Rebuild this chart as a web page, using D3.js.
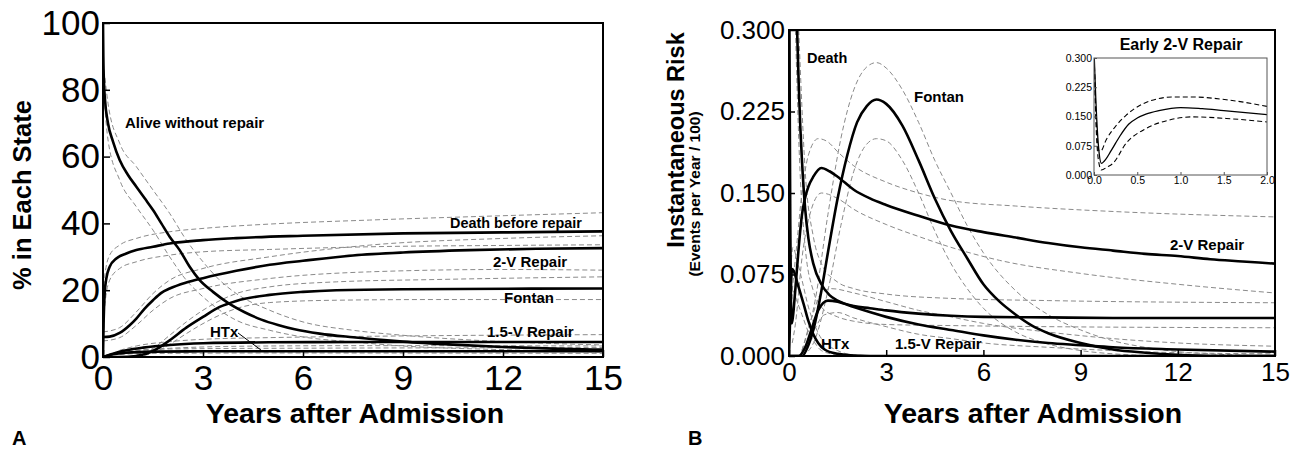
<!DOCTYPE html>
<html>
<head>
<meta charset="utf-8">
<script src="https://cdn.jsdelivr.net/npm/d3@7"></script>
<style>
  body { margin: 0; background: #fff; }
  svg { font-family: "Liberation Sans", Arial, sans-serif; }
</style>
</head>
<body>
<svg id="chart" width="1299" height="449"></svg>
<script>
// ---- data ----
var xTicks = [0, 3, 6, 9, 12, 15];
var yTicksA = [0, 20, 40, 60, 80, 100];
var yTicksB = [0, 0.075, 0.15, 0.225, 0.3];
var xTicksInset = [0, 0.5, 1, 1.5, 2];

// Panel A: % in each state  [year, percent]
var aliveA = [[0,100],[0.01,90],[0.03,82],[0.06,77],[0.15,70],[0.3,64.5],[0.5,59],[0.75,54.5],[1,51],[1.25,47.5],[1.5,44],[1.75,40],[2,36],[2.3,32],[2.6,27],[2.9,23],[3.3,19.5],[3.75,16.2],[4.25,13.4],[4.75,11.2],[5.25,9.6],[5.75,8.3],[6.5,7],[7.5,5.9],[9,4.6],[10.5,3.7],[12,3],[13.5,2.5],[15,2.2]];
var aliveAUp = [[0.03,86],[0.15,76],[0.5,64],[1,57],[1.5,50],[2,43],[2.5,35],[3,28.5],[3.5,23],[4,19],[5,14],[6,10.5],[7.5,8],[9,6.5],[12,4.6],[15,3.6]];
var aliveALo = [[0.03,78],[0.15,65],[0.5,53],[1,45],[1.5,38],[2,30],[2.5,23],[3,18],[3.5,14],[4,11],[5,8],[6,6],[7.5,4.5],[9,3.3],[12,2.2],[15,1.5]];

var deathA = [[0,0],[0.02,11],[0.05,19],[0.1,23.5],[0.2,27],[0.4,29.5],[0.7,31],[1,32],[1.5,33],[2,34],[3,35],[4,35.6],[6,36.3],[9,37],[12,37.3],[15,37.6]];
var deathAUp = [[0.02,14],[0.05,24],[0.2,30.5],[0.5,33.5],[1,35.5],[2,37.5],[3,38.5],[5,39.8],[8,41],[12,42.3],[15,43.2]];
var deathALo = [[0.02,8],[0.05,15],[0.2,23],[0.5,26.5],[1,28.5],[2,30.5],[3,31.5],[5,32.2],[8,33],[12,33.4],[15,33.6]];

var twoVA = [[0,6],[0.2,6.1],[0.5,7.2],[0.8,9.5],[1,11.5],[1.25,14.5],[1.5,17],[1.75,19.2],[2,20.5],[2.5,22.3],[3,23.6],[4,25.8],[5,27.6],[6,28.8],[7.5,30.4],[9,31.3],[11,32],[13,32.4],[15,32.6]];
var twoVAUp = [[0,7.5],[0.5,8.8],[1,13.5],[1.5,19],[2,23],[3,26.5],[5,30],[8,33.5],[12,35.5],[15,36.3]];
var twoVALo = [[0,4.8],[0.5,5.8],[1,9.5],[1.5,14],[2,17.5],[3,20.5],[5,23.5],[8,25.5],[12,26.2],[15,26]];

var fontanA = [[0,0],[0.5,0],[1,0.3],[1.5,1.8],[2,5],[2.5,8.8],[3,12],[3.5,15],[4,16.8],[5,18.6],[6,19.5],[7,20],[9,20.3],[15,20.5]];
var fontanAUp = [[1,0.6],[1.5,2.6],[2,6.5],[2.5,10.5],[3,14],[4,19],[5,21],[7,22.5],[10,23.2],[15,24]];
var fontanALo = [[1,0.1],[1.5,1.2],[2,3.8],[2.5,7],[3,10],[4,14.5],[5,16.3],[7,17],[10,17.2],[15,17.2]];

var onePointFiveA = [[0,0],[0.3,1],[0.7,2],[1.2,2.8],[2,3.6],[3,4.1],[5,4.4],[8,4.5],[15,4.5]];
var onePointFiveAUp = [[0.5,2],[1,3.3],[2,4.6],[3,5.3],[5,5.8],[8,6.2],[15,6.7]];
var onePointFiveALo = [[0.5,0.9],[1,1.8],[2,2.6],[3,3],[5,3.3],[8,3.4],[15,3.3]];

var htxA = [[0,0],[0.3,0.8],[0.7,1.3],[1.5,1.6],[3,1.7],[15,1.7]];
var htxAUp = [[0.5,1.5],[1,2],[2,2.4],[5,2.6],[15,2.8]];
var htxALo = [[0.5,0.7],[1,1],[2,1.1],[5,1.2],[15,1.1]];

// Panel B: instantaneous risk  [year, events per year / 100]
var deathB = [[0,1],[0.1,0.6],[0.2,0.36],[0.25,0.3],[0.3,0.25],[0.35,0.21],[0.4,0.18],[0.5,0.135],[0.6,0.108],[0.75,0.085],[1,0.066],[1.25,0.056],[1.5,0.051],[2,0.046],[2.5,0.044],[3,0.042],[4,0.039],[5,0.037],[6,0.036],[8,0.0355],[10,0.035],[15,0.035]];
var deathBUp = [[0.3,0.3],[0.5,0.17],[0.75,0.11],[1,0.085],[1.5,0.068],[2,0.062],[3,0.057],[5,0.053],[8,0.051],[15,0.049]];
var deathBLo = [[0.2,0.3],[0.3,0.2],[0.5,0.1],[0.75,0.06],[1,0.045],[1.5,0.036],[2,0.032],[3,0.029],[5,0.028],[8,0.027],[15,0.026]];

var twoVB = [[0,0.4],[0.02,0.25],[0.04,0.12],[0.06,0.05],[0.085,0.03],[0.12,0.036],[0.2,0.063],[0.3,0.1],[0.4,0.13],[0.5,0.146],[0.6,0.156],[0.75,0.165],[1,0.173],[1.25,0.17],[1.5,0.165],[2,0.153],[2.5,0.145],[3,0.139],[4,0.129],[5,0.12],[6,0.114],[7,0.109],[8,0.104],[9,0.1],[10,0.097],[11,0.094],[12,0.092],[13,0.089],[14,0.087],[15,0.085]];
var twoVBUp = [[0.1,0.06],[0.2,0.09],[0.4,0.15],[0.6,0.185],[0.9,0.2],[1.2,0.197],[1.5,0.188],[2,0.175],[3,0.16],[4,0.15],[5,0.143],[7,0.138],[10,0.133],[15,0.128]];
var twoVBLo = [[0.1,0.012],[0.2,0.03],[0.4,0.09],[0.6,0.125],[1,0.15],[1.5,0.145],[2,0.135],[3,0.121],[4,0.11],[5,0.1],[6.5,0.088],[9,0.076],[12,0.066],[15,0.058]];

var fontanB = [[0,0],[0.4,0],[0.6,0.01],[0.8,0.03],[1,0.06],[1.2,0.095],[1.5,0.145],[1.8,0.185],[2.1,0.215],[2.4,0.23],[2.7,0.236],[3,0.232],[3.5,0.212],[4,0.18],[4.5,0.145],[5,0.115],[5.5,0.09],[6,0.066],[6.5,0.05],[7,0.038],[7.5,0.028],[8,0.021],[9,0.012],[10,0.006],[11,0.003],[12,0.001],[13,0],[15,0]];
var fontanBUp = [[0.4,0.005],[0.8,0.05],[1.2,0.13],[1.6,0.2],[2,0.245],[2.4,0.266],[2.7,0.27],[3,0.265],[3.5,0.245],[4,0.215],[4.5,0.18],[5,0.15],[5.5,0.12],[6,0.095],[7,0.06],[8,0.038],[9,0.024],[10,0.014],[11,0.008],[12,0.004],[13,0.002],[15,0]];
var fontanBLo = [[0.4,0],[0.8,0.015],[1.2,0.06],[1.6,0.12],[2,0.17],[2.4,0.195],[2.7,0.2],[3,0.198],[3.5,0.18],[4,0.15],[4.5,0.115],[5,0.085],[5.5,0.062],[6,0.044],[7,0.022],[8,0.011],[9,0.005],[10,0.002],[11,0.0005],[12,0]];

var onePointFiveB = [[0,0],[0.3,0],[0.5,0.008],[0.7,0.025],[0.9,0.042],[1.2,0.051],[1.5,0.05],[2,0.045],[3,0.036],[4,0.029],[5,0.024],[6,0.019],[7,0.015],[8,0.012],[9,0.01],[10,0.008],[12,0.006],[15,0.004]];
var onePointFiveBUp = [[0.4,0.005],[0.7,0.035],[1,0.058],[1.3,0.062],[2,0.058],[3,0.05],[4,0.042],[5,0.036],[6,0.03],[8,0.022],[10,0.016],[12,0.012],[15,0.009]];
var onePointFiveBLo = [[0.5,0.003],[0.8,0.025],[1.1,0.038],[1.5,0.04],[2,0.035],[3,0.027],[4,0.02],[5,0.016],[6,0.012],[8,0.008],[10,0.005],[12,0.003],[15,0.002]];

var htxB = [[0,0],[0.03,0.03],[0.06,0.065],[0.1,0.08],[0.15,0.078],[0.25,0.068],[0.35,0.058],[0.45,0.048],[0.6,0.032],[0.75,0.02],[0.9,0.012],[1.1,0.006],[1.5,0.002],[2,0.0005],[3,0],[15,0]];
var htxBUp = [[0,0],[0.05,0.07],[0.12,0.1],[0.25,0.088],[0.4,0.07],[0.6,0.045],[0.8,0.028],[1,0.016],[1.5,0.005],[2,0.001],[3,0]];
var htxBLo = [[0.05,0.03],[0.12,0.06],[0.25,0.05],[0.4,0.038],[0.6,0.022],[0.8,0.012],[1,0.005],[1.5,0.001],[2,0]];

// Inset: early 2-V repair hazard
var insetEst = [[0,0.32],[0.02,0.2],[0.04,0.11],[0.06,0.055],[0.085,0.03],[0.12,0.036],[0.2,0.063],[0.3,0.1],[0.4,0.13],[0.5,0.146],[0.6,0.156],[0.75,0.165],[1,0.173],[1.25,0.17],[1.5,0.165],[1.75,0.16],[2,0.155]];
var insetUp = [[0,0.32],[0.03,0.12],[0.05,0.064],[0.08,0.062],[0.14,0.09],[0.25,0.125],[0.37,0.153],[0.57,0.183],[0.75,0.196],[0.9,0.2],[1.14,0.2],[1.53,0.193],[2,0.176]];
var insetLo = [[0,0.32],[0.02,0.15],[0.05,0.04],[0.085,0.013],[0.15,0.02],[0.22,0.03],[0.37,0.081],[0.6,0.119],[0.87,0.141],[1.14,0.149],[1.53,0.145],[2,0.136]];

// ---- drawing ----
var svg = d3.select("#chart");

function panel(opts) {
    var g = svg.append("g");
    var x = d3.scaleLinear().domain(opts.xDomain).range(opts.xRange);
    var y = d3.scaleLinear().domain(opts.yDomain).range(opts.yRange);

    var clipId = "clip" + opts.id;
    svg.append("clipPath").attr("id", clipId)
        .append("rect")
        .attr("x", opts.xRange[0]).attr("y", opts.yRange[1])
        .attr("width", opts.xRange[1] - opts.xRange[0])
        .attr("height", opts.yRange[0] - opts.yRange[1]);

    var line = d3.line()
        .x(function(d) { return x(d[0]); })
        .y(function(d) { return y(d[1]); })
        .curve(d3.curveMonotoneX);

    var lines = g.append("g").attr("clip-path", "url(#" + clipId + ")");
    opts.bands.forEach(function(b) {
        lines.append("path").datum(b)
            .attr("fill", "none")
            .attr("stroke", opts.bandColor || "#8a8a8a")
            .attr("stroke-width", opts.bandWidth || 1)
            .attr("stroke-dasharray", opts.bandDash || "5,3")
            .attr("d", line);
    });
    opts.series.forEach(function(s) {
        lines.append("path").datum(s)
            .attr("fill", "none")
            .attr("stroke", "#000")
            .attr("stroke-width", opts.lineWidth || 2.6)
            .attr("stroke-linejoin", "round")
            .attr("d", line);
    });

    var xAxis = g.append("g")
        .attr("transform", "translate(0," + opts.yRange[0] + ")")
        .call(d3.axisBottom(x).tickValues(opts.xTicks).tickSize(-opts.tickLen).tickSizeOuter(0)
            .tickPadding(opts.xPad).tickFormat(opts.xFormat || d3.format("d")));
    var yAxis = g.append("g")
        .attr("transform", "translate(" + opts.xRange[0] + ",0)")
        .call(d3.axisLeft(y).tickValues(opts.yTicks).tickSize(-opts.tickLen).tickSizeOuter(0)
            .tickPadding(opts.yPad).tickFormat(opts.yFormat || d3.format("d")));
    [xAxis, yAxis].forEach(function(a) {
        a.select(".domain").remove();
        a.selectAll("line").attr("stroke", opts.frameColor || "#000").attr("stroke-width", opts.tickWidth || 1.5);
        a.selectAll("text").attr("font-size", opts.tickFont).attr("fill", "#000")
            .attr("font-family", "'Liberation Sans', Arial, sans-serif");
    });

    g.append("rect")
        .attr("x", opts.xRange[0]).attr("y", opts.yRange[1])
        .attr("width", opts.xRange[1] - opts.xRange[0])
        .attr("height", opts.yRange[0] - opts.yRange[1])
        .attr("fill", "none")
        .attr("stroke", opts.frameColor || "#000")
        .attr("stroke-width", opts.frameWidth || 2);
    return { x: x, y: y, g: g };
}

function label(txt, px, py, size, anchor) {
    svg.append("text")
        .attr("x", px).attr("y", py)
        .attr("font-size", size)
        .attr("font-weight", "bold")
        .attr("text-anchor", anchor || "start")
        .text(txt);
}

// Panel A
var A = panel({
    id: "A", xDomain: [0, 15], yDomain: [0, 100],
    xRange: [103, 603], yRange: [357, 23],
    xTicks: xTicks, yTicks: yTicksA,
    tickLen: 7, xPad: 8, yPad: 3, tickFont: 35,
    series: [aliveA, deathA, twoVA, fontanA, onePointFiveA, htxA],
    bands: [aliveAUp, aliveALo, deathAUp, deathALo, twoVAUp, twoVALo, fontanAUp, fontanALo,
            onePointFiveAUp, onePointFiveALo, htxAUp, htxALo]
});

// Panel B
var B = panel({
    id: "B", xDomain: [0, 15], yDomain: [0, 0.3],
    xRange: [789, 1275], yRange: [356, 30],
    xTicks: xTicks, yTicks: yTicksB,
    tickLen: 6, xPad: 7, yPad: 4, tickFont: 26,
    yFormat: d3.format(".3f"),
    series: [deathB, twoVB, fontanB, onePointFiveB, htxB],
    bands: [deathBUp, deathBLo, twoVBUp, twoVBLo, fontanBUp, fontanBLo,
            onePointFiveBUp, onePointFiveBLo, htxBUp, htxBLo]
});

// Inset
var I = panel({
    id: "I", xDomain: [0, 2], yDomain: [0, 0.3],
    xRange: [1094, 1267], yRange: [175, 58],
    xTicks: xTicksInset, yTicks: yTicksB,
    tickLen: 3, xPad: 2, yPad: 2, tickFont: 10.5,
    xFormat: d3.format(".1f"), yFormat: d3.format(".3f"),
    frameColor: "#555", frameWidth: 1, tickWidth: 1,
    lineWidth: 1.3, bandColor: "#000", bandWidth: 1.1, bandDash: "5,3",
    series: [insetEst],
    bands: [insetUp, insetLo]
});

// Axis titles
label("Years after Admission", 355, 423, 28.5, "middle");
label("Years after Admission", 1033, 423, 28.5, "middle");
svg.append("text").attr("transform", "translate(31,195) rotate(-90)")
    .attr("font-size", 25.5).attr("font-weight", "bold").attr("text-anchor", "middle")
    .text("% in Each State");
svg.append("text").attr("transform", "translate(684,140) rotate(-90)")
    .attr("font-size", 23.5).attr("font-weight", "bold").attr("text-anchor", "middle")
    .text("Instantaneous Risk");
svg.append("text").attr("transform", "translate(700,194) rotate(-90)")
    .attr("font-size", 15.5).attr("font-weight", "bold").attr("text-anchor", "middle")
    .text("(Events per Year / 100)");

// Panel letters
label("A", 12, 445, 20);
label("B", 688, 445, 20);

// Curve labels, panel A
label("Alive without repair", 125, 128, 15);
label("Death before repair", 450, 228, 14.4);
label("2-V Repair", 493, 267, 15);
label("Fontan", 504, 303, 15);
label("1.5-V Repair", 487, 337, 15);
label("HTx", 210, 337, 15);
svg.append("line")
    .attr("x1", A.x(4.05)).attr("y1", A.y(7.2))
    .attr("x2", A.x(4.75)).attr("y2", A.y(2))
    .attr("stroke", "#000").attr("stroke-width", 1);

// Curve labels, panel B
label("Death", 807, 63, 14.5);
label("Fontan", 914, 102, 15);
label("2-V Repair", 1170, 250, 15);
label("HTx", 821, 349, 15);
label("1.5-V Repair", 895, 349, 15);

// Inset title
label("Early 2-V Repair", 1181, 50, 16, "middle");
</script>
</body>
</html>
